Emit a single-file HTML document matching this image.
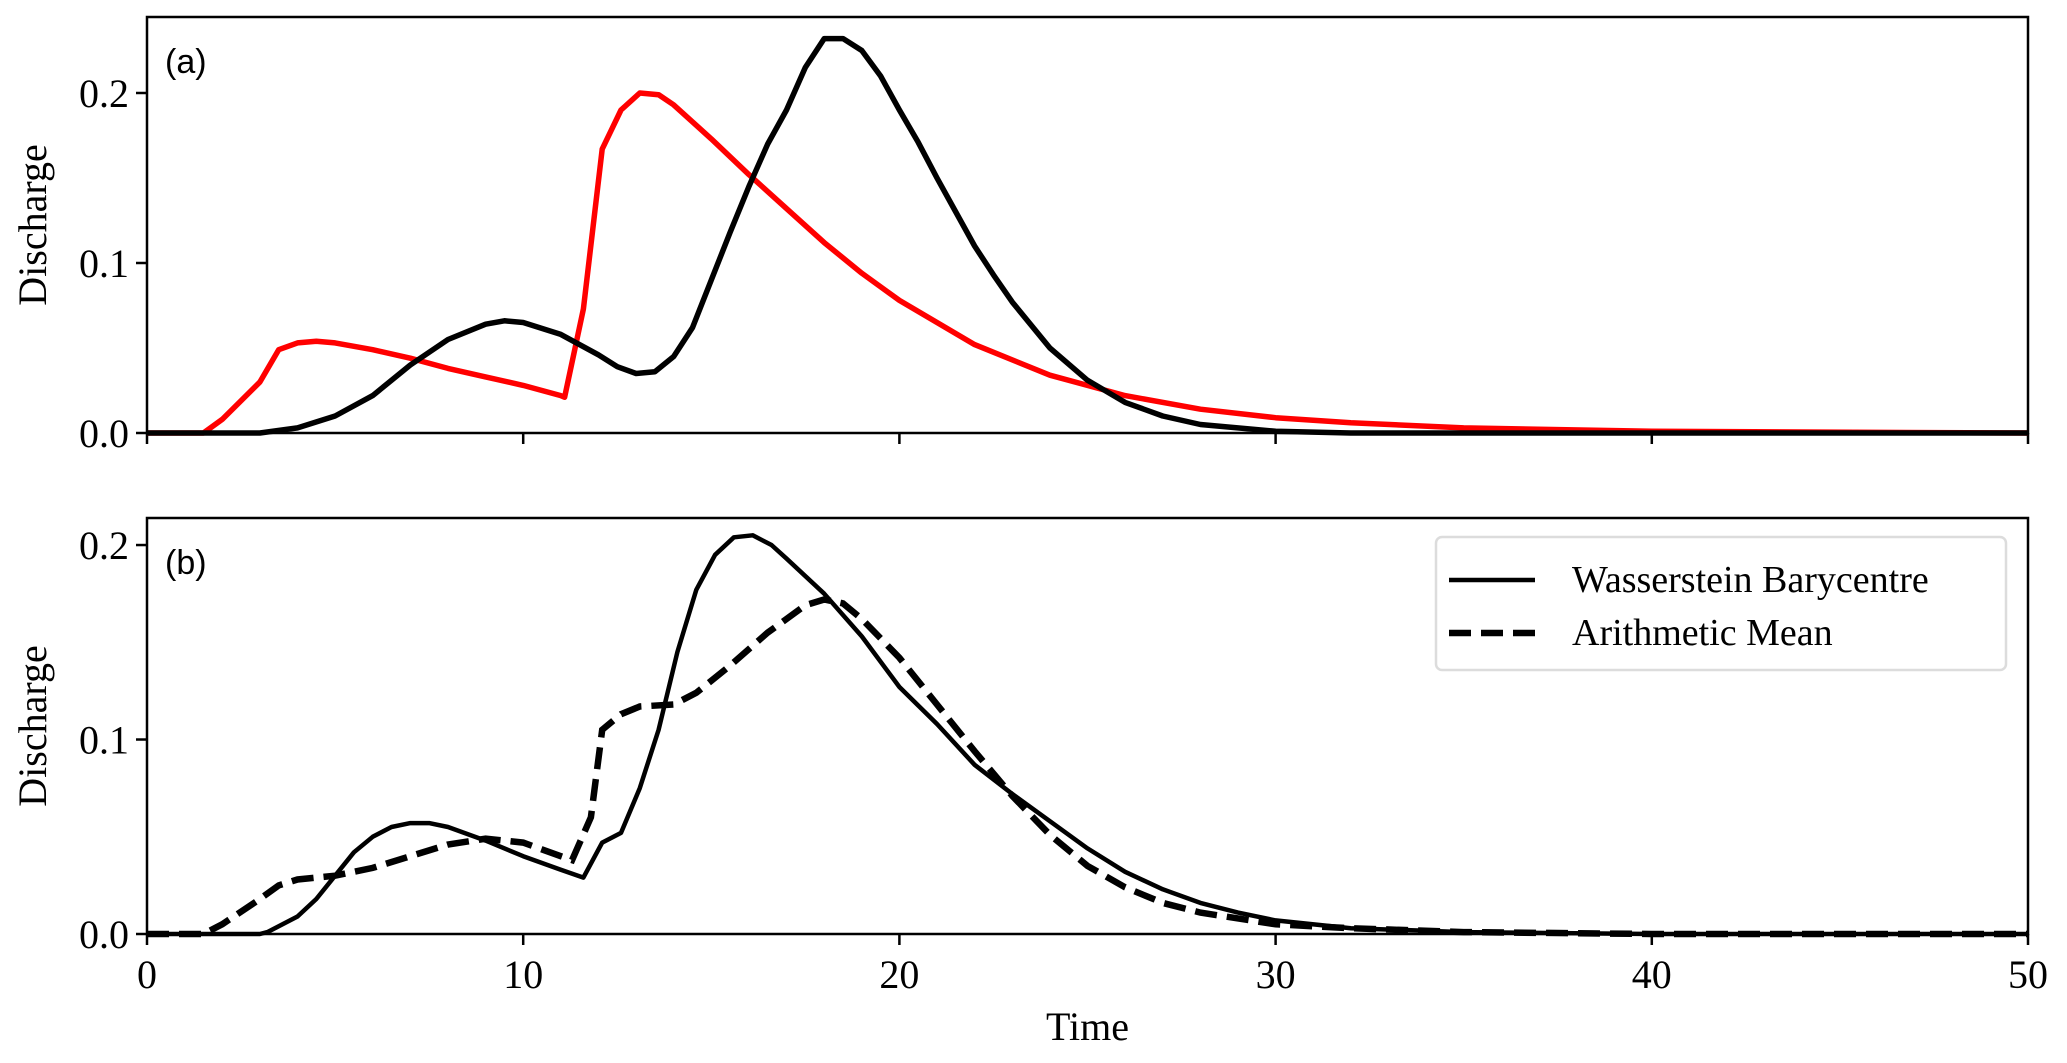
<!DOCTYPE html>
<html><head><meta charset="utf-8"><style>
body{margin:0;background:#fff}
svg text{font-family:"Liberation Serif",serif;fill:#000}
</style></head><body>
<svg id="chart" width="2067" height="1058" xmlns="http://www.w3.org/2000/svg">
<g id="root"></g>
</svg>
<script>
const timeA=[0,1.5,2,3,3.5,4,4.5,5,6,7,8,9,10,11,11.1,11.6,12.1,12.6,13.1,13.6,14,15,16,17,18,19,20,22,24,26,28,30,32,35,40,50];
const redA=[0,0,0.008,0.03,0.049,0.053,0.054,0.053,0.049,0.044,0.038,0.033,0.028,0.022,0.021,0.073,0.167,0.19,0.2,0.199,0.193,0.173,0.152,0.132,0.112,0.094,0.078,0.052,0.034,0.022,0.014,0.009,0.006,0.003,0.001,0];
const timeB=[0,3,4,5,6,7,8,9,9.5,10,11,12,12.5,13,13.5,14,14.5,15,15.5,16,16.5,17,17.5,18,18.5,19,19.5,20,20.5,21,21.5,22,22.5,23,24,25,26,27,28,30,32,50];
const blackA=[0,0,0.003,0.01,0.022,0.04,0.055,0.064,0.066,0.065,0.058,0.046,0.039,0.035,0.036,0.045,0.062,0.09,0.118,0.145,0.17,0.19,0.215,0.232,0.232,0.225,0.21,0.19,0.171,0.15,0.13,0.11,0.093,0.077,0.05,0.031,0.018,0.01,0.005,0.001,0,0];
const timeW=[0,3,3.2,4,4.5,5,5.5,6,6.5,7,7.5,8,9,10,11,11.6,12.1,12.6,13.1,13.6,14.1,14.6,15.1,15.6,16.1,16.6,17,18,19,20,21,22,23,24,25,26,27,28,29,30,32,35,40,50];
const wass=[0,0,0.001,0.009,0.018,0.03,0.042,0.05,0.055,0.057,0.057,0.055,0.048,0.04,0.033,0.029,0.047,0.052,0.075,0.105,0.145,0.177,0.195,0.204,0.205,0.2,0.193,0.175,0.153,0.127,0.108,0.087,0.072,0.058,0.044,0.032,0.023,0.016,0.011,0.007,0.003,0.001,0,0];
const timeM=[0,1.5,2,3,3.5,4,5,6,7,8,9,10,11,11.3,11.8,12.1,12.6,13.1,14,14.6,15.5,16.5,17.5,18,18.5,19,20,21,22,23,24,25,26,27,28,30,32,35,40,50];
const mean=[0,0,0.005,0.018,0.025,0.028,0.03,0.034,0.04,0.046,0.049,0.047,0.04,0.038,0.06,0.105,0.113,0.117,0.118,0.124,0.138,0.155,0.169,0.172,0.17,0.162,0.142,0.118,0.094,0.071,0.051,0.035,0.024,0.016,0.011,0.005,0.003,0.001,0,0];
const xTicks=[0,10,20,30,40,50];
const yTicksA=[0,0.1,0.2];
const yTicksB=[0,0.1,0.2];

const NS="http://www.w3.org/2000/svg";
const root=document.getElementById('root');
function mk(tag,attrs,parent){const e=document.createElementNS(NS,tag);for(const k in attrs)e.setAttribute(k,attrs[k]);(parent||root).appendChild(e);return e;}
const L=147,R=2028;
const sx=t=>L+(t-0)/(50-0)*(R-L);
const panels=[{top:17,bot:433,ymax:0.2447,name:'a'},{top:518,bot:934,ymax:0.2139,name:'b'}];
function sy(p,v){return p.bot-v/p.ymax*(p.bot-p.top);}
function path(p,xs,ys){return xs.map((t,i)=>(i?'L':'M')+sx(t).toFixed(1)+','+sy(p,ys[i]).toFixed(1)).join(' ');}

panels.forEach((p,pi)=>{
  const g=mk('g',{});
  
  
  xTicks.forEach(t=>{
    const tk=mk('line',{x1:sx(t),x2:sx(t),y1:p.bot,y2:p.bot+11,stroke:'#000','stroke-width':2.5},g);
    
    
    if(pi===1){
      const tx=mk('text',{x:sx(t),y:p.bot+54,'text-anchor':'middle','font-size':40},g);
      
      
      tx.textContent=String(t);
    }
  });
  (pi===0?yTicksA:yTicksB).forEach(v=>{
    const y=sy(p,v);
    const tk=mk('line',{x1:L-11,x2:L,y1:y,y2:y,stroke:'#000','stroke-width':2.5},g);
    
    
    const tx=mk('text',{x:L-18,y:y+14,'text-anchor':'end','font-size':40},g);
    
    
    tx.textContent=v.toFixed(1);
  });
  const yl=mk('text',{x:0,y:0,'text-anchor':'middle','font-size':40,transform:`translate(46,${(p.top+p.bot)/2}) rotate(-90)`},g);
  
  
  yl.textContent='Discharge';
  const lb=mk('text',{x:165,y:p.top+56,'font-size':34,style:'font-family:"Liberation Sans",sans-serif'},g);
  
  
  lb.textContent='('+p.name+')';
  p.g=g;
});

const pa=panels[0],pb=panels[1];
let e;
e=mk('path',{d:path(pa,timeA,redA),fill:'none',stroke:'#ff0000','stroke-width':5.5,'stroke-linejoin':'round'},pa.g);


e=mk('path',{d:path(pa,timeB,blackA),fill:'none',stroke:'#000','stroke-width':5.5,'stroke-linejoin':'round'},pa.g);


e=mk('path',{d:path(pb,timeW,wass),fill:'none',stroke:'#000','stroke-width':4.5,'stroke-linejoin':'round'},pb.g);


e=mk('path',{d:path(pb,timeM,mean),fill:'none',stroke:'#000','stroke-width':6.5,'stroke-dasharray':'22,10'},pb.g);



panels.forEach(p=>{
  const f=mk('rect',{x:L,y:p.top,width:R-L,height:p.bot-p.top,fill:'none',stroke:'#000','stroke-width':2.5},p.g);
  
  
});

const lg=mk('g',{});


mk('rect',{x:1436,y:537,width:570,height:133,rx:6,fill:'#fff',stroke:'#dcdcdc','stroke-width':2.5},lg);
const l1=mk('line',{x1:1449,x2:1535,y1:580,y2:580,stroke:'#000','stroke-width':4.5},lg);


const t1=mk('text',{x:1572,y:592,'font-size':38},lg);


t1.textContent='Wasserstein Barycentre';
const l2=mk('line',{x1:1449,x2:1535,y1:633,y2:633,stroke:'#000','stroke-width':6.5,'stroke-dasharray':'22,10'},lg);


const t2=mk('text',{x:1572,y:645,'font-size':38},lg);


t2.textContent='Arithmetic Mean';

const xt=mk('text',{x:(L+R)/2,y:1040,'text-anchor':'middle','font-size':40});


xt.textContent='Time';
</script>
</body></html>
